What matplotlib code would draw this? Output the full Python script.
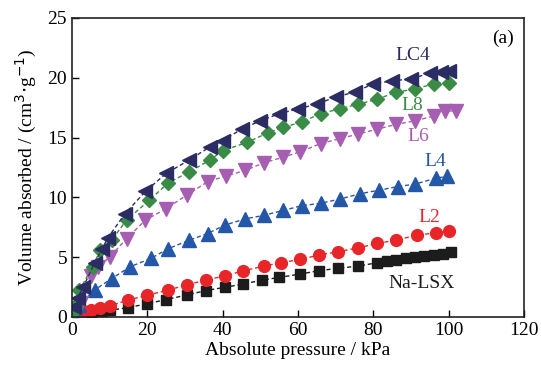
import matplotlib.pyplot as plt

# pressure (kPa) and uptake (cm3/g)
lc4_p = [0.5, 1.5, 3, 6, 8, 9.5, 14, 19.5, 25, 31, 36.5, 40, 45, 50, 55, 60, 65, 70, 75, 80, 85, 90, 95, 98, 100]
lc4_v = [0.8, 1.6, 2.5, 4.5, 5.7, 6.6, 8.6, 10.5, 12.0, 13.1, 14.2, 14.75, 15.7, 16.4, 17.0, 17.4, 17.8, 18.4, 18.8, 19.5, 19.75, 19.9, 20.4, 20.5, 20.6]

l8_p = [0.5, 1, 2, 5.5, 7.5, 10.5, 14.5, 20.5, 25.5, 31, 36.5, 40, 46.5, 52, 56, 61, 66, 71, 76, 81, 86, 91, 96, 100]
l8_v = [0.5, 1.0, 2.25, 4.2, 5.6, 6.4, 8.1, 9.75, 11.2, 12.1, 13.1, 13.9, 14.6, 15.4, 15.85, 16.3, 17.0, 17.4, 17.8, 18.2, 18.8, 19.05, 19.5, 19.6]

l6_p = [0.5, 2.5, 5, 7, 10, 14.5, 19.5, 25, 30.5, 36, 41, 46, 51, 56, 60.5, 66, 71, 76, 81, 86, 91, 96, 99, 102]
l6_v = [0.3, 1.15, 3.4, 4.2, 5.0, 6.55, 8.1, 9.05, 10.2, 11.3, 11.8, 12.25, 12.9, 13.35, 13.8, 14.5, 14.9, 15.3, 15.7, 16.1, 16.4, 16.8, 17.2, 17.25]

l4_p = [0.5, 2, 6, 10.5, 15.5, 21, 25.5, 31, 36, 40.5, 46, 51, 56, 61, 66, 71, 76.5, 81.5, 86.5, 91, 96.5, 99.5]
l4_v = [0.4, 1.0, 2.25, 3.2, 4.2, 4.9, 5.7, 6.4, 6.97, 7.67, 8.2, 8.5, 8.9, 9.3, 9.5, 9.85, 10.3, 10.6, 10.9, 11.1, 11.6, 11.75]

l2_p = [0.5, 3, 5, 7.5, 10, 15, 20, 25.5, 30.5, 35.5, 40.5, 45.5, 51, 55.5, 60.5, 65.5, 70.5, 76, 81, 86, 91.5, 96.5, 100]
l2_v = [0.1, 0.45, 0.58, 0.72, 0.92, 1.42, 1.8, 2.25, 2.67, 3.08, 3.42, 3.86, 4.25, 4.53, 4.8, 5.17, 5.44, 5.78, 6.14, 6.42, 6.83, 7.03, 7.17]

nalsx_p = [0.5, 2, 5, 8, 10, 15, 20, 25, 30.5, 35.5, 40.5, 45.5, 50.5, 55, 60.5, 65.5, 70.5, 76, 81, 83.5, 86, 88.5, 91, 93.5, 96, 98.5, 100.5]
nalsx_v = [0.05, 0.1, 0.3, 0.45, 0.55, 0.78, 1.1, 1.45, 1.83, 2.2, 2.47, 2.75, 3.08, 3.3, 3.58, 3.86, 4.06, 4.25, 4.53, 4.65, 4.78, 4.9, 5.0, 5.1, 5.2, 5.3, 5.4]

plt.rcParams['font.family'] = ['Liberation Serif', 'DejaVu Serif']

fig = plt.figure(figsize=(5.41, 3.75), dpi=100)
ax = fig.add_axes([0.133, 0.155, 0.836, 0.797])

series = [
    (nalsx_p, nalsx_v, 's', 7.5, '#1c1c1c'),
    (l2_p, l2_v, 'o', 8.5, '#e8262a'),
    (l4_p, l4_v, '^', 10.5, '#2457a8'),
    (l6_p, l6_v, 'v', 10.5, '#a65fb0'),
    (l8_p, l8_v, 'D', 7.5, '#3a8b46'),
    (lc4_p, lc4_v, '<', 10.5, '#2b2c64'),
]
for p, v, m, ms, c in series:
    ax.plot(p, v, linestyle=(0, (3, 2)), lw=1.0, color=c, marker=m, ms=ms, mec=c, mfc=c)

labels = [
    ('LC4', 90.3, 21.9, '#2b2c64'),
    ('L8', 90.2, 17.7, '#3a8b46'),
    ('L6', 91.9, 15.1, '#a65fb0'),
    ('L4', 96.4, 13.0, '#2457a8'),
    ('L2', 94.8, 8.3, '#e8262a'),
    ('Na-LSX', 92.7, 2.75, '#1c1c1c'),
]
for t, x, y, c in labels:
    ax.text(x, y, t, color=c, fontsize=14, ha='center', va='center')
ax.text(114.5, 23.3, '(a)', fontsize=14, ha='center', va='center')

ax.set_xlim(0, 120)
ax.set_ylim(0, 25)
ax.set_xticks(range(0, 121, 20))
ax.set_yticks(range(0, 26, 5))
ax.tick_params(direction='in', length=5, width=1, labelsize=14, top=False, right=False)
ax.set_xlabel('Absolute pressure / kPa', fontsize=14, labelpad=2)
ax.set_ylabel('Volume absorbed / (cm$^3$$\\cdot$g$^{-1}$)', fontsize=14, labelpad=6)
for s in ax.spines.values():
    s.set_linewidth(1.2)
    s.set_color('#222222')

fig.savefig('out.png', dpi=100)
